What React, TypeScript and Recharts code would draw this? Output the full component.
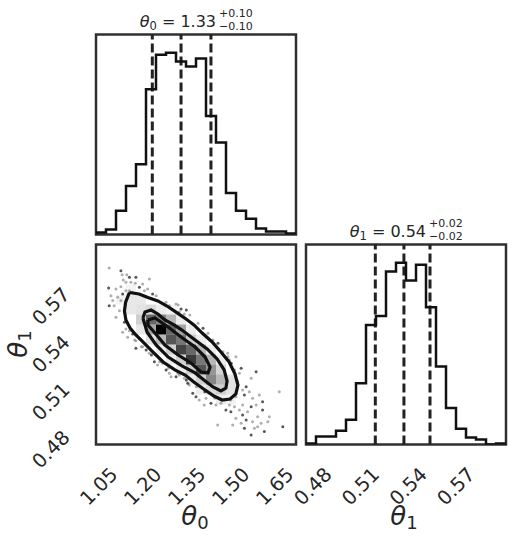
import { ComposedChart, Line, Scatter, XAxis, YAxis, ReferenceLine, ReferenceArea } from 'recharts'

const INK = '#262626'
const FRAME = '#303030'
const FONT = '"DejaVu Sans", sans-serif'

// axis ranges (sample extent) and tick values
const theta0Range = [1.04, 1.722]
const theta1Range = [0.4756, 0.6014]
const theta0Ticks = [1.05, 1.2, 1.35, 1.5, 1.65]
const theta1Ticks = [0.48, 0.51, 0.54, 0.57]

// 1D histograms, 20 bins over the axis range
const theta0Counts = [2, 5, 24, 49, 71, 147, 182, 184, 175, 170, 178, 120, 93, 42, 24, 16, 6, 3, 3, 1]
const theta1Counts = [1, 8, 8, 14, 25, 62, 121, 130, 175, 184, 166, 182, 139, 79, 37, 16, 7, 5, 0, 1]

// 16 / 50 / 84 % quantiles
const theta0Quantiles = [1.232, 1.33, 1.432]
const theta1Quantiles = [0.5192, 0.5372, 0.5536]

// 2D histogram cells: [theta0 bin, theta1 bin, count]
const density2d: [number, number, number][] = [
  [6, 11, 40], [9, 8, 34], [8, 9, 33], [10, 7, 31], [7, 10, 31], [5, 12, 29], [7, 11, 29], [9, 9, 29],
  [8, 10, 27], [10, 8, 27], [6, 12, 25], [11, 6, 25], [11, 7, 23], [8, 11, 21], [5, 11, 21], [12, 6, 18],
  [7, 12, 18], [6, 10, 18], [10, 9, 18], [11, 8, 18], [12, 5, 14], [7, 9, 14], [9, 10, 14], [8, 8, 14],
  [9, 7, 14], [10, 6, 14], [4, 12, 14], [4, 13, 10], [5, 13, 12], [3, 13, 9], [3, 14, 9], [4, 14, 9],
  [12, 7, 13], [13, 5, 10], [13, 6, 10], [11, 5, 12], [6, 13, 8], [2, 14, 6], [3, 15, 6], [12, 4, 8],
  [13, 4, 6], [5, 10, 10], [4, 11, 9], [6, 9, 8], [7, 8, 8], [8, 7, 8], [9, 6, 8], [10, 5, 8],
  [12, 8, 8], [11, 9, 8], [10, 10, 8], [9, 11, 8], [8, 12, 8], [7, 13, 6],
]

// contour levels (theta0, theta1)
const outerContour = [
  [1.154, 0.5712], [1.187, 0.5703], [1.217, 0.5681], [1.251, 0.5659], [1.282, 0.5627], [1.313, 0.5589],
  [1.347, 0.5545], [1.374, 0.5508], [1.402, 0.5457], [1.436, 0.5401], [1.466, 0.5338], [1.494, 0.5275],
  [1.514, 0.5199], [1.524, 0.513], [1.517, 0.5074], [1.497, 0.5042], [1.47, 0.5036], [1.442, 0.5061],
  [1.412, 0.5099], [1.378, 0.5143], [1.344, 0.5193], [1.309, 0.5225], [1.269, 0.5275], [1.231, 0.5344],
  [1.2, 0.5401], [1.176, 0.5445], [1.156, 0.5489], [1.142, 0.5539], [1.137, 0.5596], [1.141, 0.5652],
  [1.154, 0.5712],
]
const middleContour = [
  [1.2, 0.5552], [1.207, 0.5589], [1.228, 0.5602], [1.251, 0.5577], [1.275, 0.5539], [1.306, 0.5508],
  [1.333, 0.5476], [1.378, 0.5413], [1.419, 0.5357], [1.453, 0.5294], [1.477, 0.5225], [1.487, 0.5155],
  [1.483, 0.5111], [1.466, 0.5093], [1.439, 0.5118], [1.408, 0.5162], [1.378, 0.5206], [1.333, 0.525],
  [1.286, 0.5306], [1.245, 0.5382], [1.214, 0.5464], [1.2, 0.5552],
]
const innerContour = [
  [1.217, 0.5539], [1.241, 0.5552], [1.286, 0.5495], [1.33, 0.5432], [1.378, 0.5369], [1.412, 0.5306],
  [1.429, 0.5243], [1.422, 0.5206], [1.398, 0.5212], [1.364, 0.5269], [1.32, 0.5319], [1.275, 0.5382],
  [1.241, 0.5457], [1.217, 0.5508], [1.217, 0.5539],
]

// samples outside the lowest contour
const darkSamples = [
  [1.125, 0.5849], [1.154, 0.5808], [1.176, 0.5808], [1.188, 0.5745], [1.083, 0.574], [1.233, 0.5703],
  [1.131, 0.5703], [1.085, 0.5629], [1.137, 0.5525], [1.165, 0.5451], [1.33, 0.5608], [1.176, 0.5361],
  [1.239, 0.5277], [1.279, 0.5225], [1.313, 0.5182], [1.353, 0.5141], [1.37, 0.5078], [1.211, 0.535],
  [1.535, 0.5235], [1.586, 0.5214], [1.552, 0.512], [1.546, 0.5067], [1.608, 0.5025], [1.569, 0.4994],
  [1.54, 0.4942], [1.5, 0.4962], [1.546, 0.4858], [1.614, 0.4837], [1.677, 0.4868], [1.569, 0.4816],
  [1.483, 0.4973], [1.432, 0.5015], [1.381, 0.5057], [1.608, 0.4973], [1.552, 0.491],
  [1.348, 0.5602], [1.405, 0.5487], [1.456, 0.5393], [1.501, 0.5267], [1.229, 0.5319], [1.348, 0.5162],
  [1.411, 0.5088],
]
const lightSamples = [
  [1.085, 0.5866], [1.129, 0.5824], [1.145, 0.5824], [1.133, 0.5791], [1.142, 0.5776], [1.159, 0.5776],
  [1.174, 0.577], [1.222, 0.5797], [1.199, 0.5766], [1.125, 0.5749], [1.108, 0.5734], [1.154, 0.5723],
  [1.165, 0.5713], [1.216, 0.5734], [1.205, 0.5723], [1.245, 0.5692], [1.091, 0.5692], [1.114, 0.5682],
  [1.125, 0.5661], [1.102, 0.5629], [1.12, 0.5598], [1.108, 0.5556], [1.142, 0.5482], [1.131, 0.5462],
  [1.154, 0.5472], [1.148, 0.543], [1.188, 0.542], [1.176, 0.5409], [1.29, 0.5629], [1.313, 0.564],
  [1.279, 0.565], [1.341, 0.5577], [1.324, 0.559], [1.142, 0.5723], [1.097, 0.5661], [1.199, 0.5371],
  [1.25, 0.5256], [1.262, 0.5278], [1.296, 0.5182], [1.29, 0.5204], [1.324, 0.5193], [1.341, 0.5172],
  [1.358, 0.513], [1.267, 0.5267], [1.222, 0.533], [1.489, 0.533], [1.495, 0.5288], [1.517, 0.5308],
  [1.529, 0.5204], [1.569, 0.5172], [1.523, 0.5151], [1.54, 0.5099], [1.563, 0.5088], [1.574, 0.5047],
  [1.597, 0.5067], [1.586, 0.5004], [1.557, 0.4962], [1.529, 0.4973], [1.512, 0.4994], [1.495, 0.5004],
  [1.517, 0.4921], [1.535, 0.4889], [1.574, 0.4899], [1.58, 0.4858], [1.591, 0.4868], [1.626, 0.4899],
  [1.631, 0.4931], [1.665, 0.5088], [1.506, 0.4879], [1.455, 0.4879], [1.466, 0.5015], [1.449, 0.5004],
  [1.409, 0.5004], [1.392, 0.5036], [1.415, 0.5047], [1.54, 0.5004], [1.591, 0.4931], [1.603, 0.4889],
  [1.517, 0.5057], [1.5, 0.5036],
  [1.32, 0.5633], [1.36, 0.5571], [1.388, 0.5518], [1.422, 0.5455], [1.439, 0.5413], [1.473, 0.534],
  [1.49, 0.5308], [1.513, 0.5225], [1.172, 0.5413], [1.195, 0.5371], [1.257, 0.5277], [1.286, 0.5235],
  [1.32, 0.5204], [1.382, 0.512], [1.445, 0.5047],
]

const toXY = (pts: number[][]) => pts.map(([x, y]) => ({ x, y }))

// outline of a step histogram
function stepData(counts: number[], range: number[]) {
  const w = (range[1] - range[0]) / counts.length
  const pts = [{ x: range[0], y: 0 }]
  counts.forEach((c, i) => pts.push({ x: range[0] + i * w, y: c }))
  pts.push({ x: range[1], y: counts[counts.length - 1] })
  pts.push({ x: range[1], y: 0 })
  return pts
}

const theta0Hist = stepData(theta0Counts, theta0Range)
const theta1Hist = stepData(theta1Counts, theta1Range)
const theta0Top = Math.max(...theta0Counts) * 1.1
const theta1Top = Math.max(...theta1Counts) * 1.1
const bin0 = (theta0Range[1] - theta0Range[0]) / 20
const bin1 = (theta1Range[1] - theta1Range[0]) / 20
const densityMax = Math.max(...density2d.map((d) => d[2]))

function XTick({ x, y, payload }: any) {
  const cy = y + 42
  return (
    <text x={x} y={cy} textAnchor="middle" dominantBaseline="central" transform={`rotate(-45 ${x} ${cy})`}
      fontSize={19.5} fontFamily={FONT} fill={INK}>
      {Number(payload.value).toFixed(2)}
    </text>
  )
}

function YTick({ x, y, payload }: any) {
  const cx = x - 45
  const cy = y + 12
  return (
    <text x={cx} y={cy} textAnchor="middle" dominantBaseline="central" transform={`rotate(-45 ${cx} ${cy})`}
      fontSize={19.5} fontFamily={FONT} fill={INK}>
      {Number(payload.value).toFixed(2)}
    </text>
  )
}

const noDot = () => <g />
const lightDot = (p: any) => <circle cx={p.cx} cy={p.cy} r={1.5} fill="#8c8c8c" fillOpacity={0.7} />
const darkDot = (p: any) => <circle cx={p.cx} cy={p.cy} r={1.5} fill="#3a3a3a" fillOpacity={0.85} />

function frame(xr: number[], yr: number[]) {
  return <ReferenceArea x1={xr[0]} x2={xr[1]} y1={yr[0]} y2={yr[1]} fill="none" stroke={FRAME} strokeWidth={2.5} ifOverflow="visible" />
}

export default function App() {
  return (
    <div style={{ position: 'absolute', left: 0, top: 0, width: 516, height: 541, background: '#fff' }}>
      <style>{'svg { overflow: visible; }'}</style>
      {/* theta0 marginal */}
      <div style={{ position: 'absolute', left: 96, top: 34 }}>
        <ComposedChart width={200} height={201} data={theta0Hist} margin={{ top: 0.5, right: 0, bottom: 0.5, left: 0 }}>
          <XAxis type="number" dataKey="x" domain={theta0Range} hide allowDataOverflow />
          <YAxis type="number" domain={[0, theta0Top]} hide allowDataOverflow />
          {theta0Quantiles.map((q) => (
            <ReferenceLine key={q} x={q} stroke="#222" strokeWidth={3} strokeDasharray="9 4" />
          ))}
          <Line type="stepAfter" dataKey="y" stroke="#111" strokeWidth={2.5} dot={false} isAnimationActive={false} />
          {frame(theta0Range, [0, theta0Top])}
        </ComposedChart>
      </div>

      {/* joint theta0 / theta1 */}
      <div style={{ position: 'absolute', left: 0, top: 244 }}>
        <ComposedChart width={296} height={297} margin={{ top: 0.5, right: 0, bottom: 0, left: 0 }}>
          <XAxis type="number" dataKey="x" domain={theta0Range} ticks={theta0Ticks} interval={0} tick={XTick}
            axisLine={false} tickLine={false} tickSize={0} tickMargin={0} height={96.5} allowDataOverflow />
          <YAxis type="number" dataKey="y" domain={theta1Range} ticks={theta1Ticks} interval={0} tick={YTick}
            axisLine={false} tickLine={false} tickSize={0} tickMargin={0} width={96} allowDataOverflow />
          <Scatter data={toXY(lightSamples)} shape={lightDot} isAnimationActive={false} />
          <Scatter data={toXY(darkSamples)} shape={darkDot} isAnimationActive={false} />
          {density2d.map(([i, j, c]) => (
            <ReferenceArea key={`${i}-${j}`} x1={theta0Range[0] + i * bin0} x2={theta0Range[0] + (i + 1) * bin0}
              y1={theta1Range[0] + j * bin1} y2={theta1Range[0] + (j + 1) * bin1}
              fill="#000" fillOpacity={(c / densityMax) ** 1.6} stroke="none" />
          ))}
          <Scatter data={toXY(outerContour)} line={{ stroke: '#111', strokeWidth: 3.2 }} shape={noDot} isAnimationActive={false} />
          <Scatter data={toXY(middleContour)} line={{ stroke: '#111', strokeWidth: 3.2 }} shape={noDot} isAnimationActive={false} />
          <Scatter data={toXY(innerContour)} line={{ stroke: '#111', strokeWidth: 3.2 }} shape={noDot} isAnimationActive={false} />
          {frame(theta0Range, theta1Range)}
        </ComposedChart>
      </div>

      {/* theta1 marginal */}
      <div style={{ position: 'absolute', left: 306, top: 244 }}>
        <ComposedChart width={200} height={297} data={theta1Hist} margin={{ top: 0.5, right: 0, bottom: 0, left: 0 }}>
          <XAxis type="number" dataKey="x" domain={theta1Range} ticks={theta1Ticks} interval={0} tick={XTick}
            axisLine={false} tickLine={false} tickSize={0} tickMargin={0} height={96.5} allowDataOverflow />
          <YAxis type="number" domain={[0, theta1Top]} hide allowDataOverflow />
          {theta1Quantiles.map((q) => (
            <ReferenceLine key={q} x={q} stroke="#222" strokeWidth={3} strokeDasharray="9 4" />
          ))}
          <Line type="stepAfter" dataKey="y" stroke="#111" strokeWidth={2.5} dot={false} isAnimationActive={false} />
          {frame(theta1Range, [0, theta1Top])}
        </ComposedChart>
      </div>

      {/* titles and axis labels */}
      <svg width={516} height={541} style={{ position: 'absolute', left: 0, top: 0, pointerEvents: 'none' }}
        fontFamily={FONT} fill={INK}>
        <text x={216} y={26.5} textAnchor="end" fontSize={16}>
          <tspan fontStyle="italic">θ</tspan><tspan fontSize={11.5} dy={3}>0</tspan><tspan dy={-3}>{' = 1.33'}</tspan>
        </text>
        <text x={219} y={17} fontSize={11}>+0.10</text>
        <text x={219} y={30} fontSize={11}>−0.10</text>

        <text x={426} y={236.5} textAnchor="end" fontSize={16}>
          <tspan fontStyle="italic">θ</tspan><tspan fontSize={11.5} dy={3}>1</tspan><tspan dy={-3}>{' = 0.54'}</tspan>
        </text>
        <text x={429} y={227} fontSize={11}>+0.02</text>
        <text x={429} y={240} fontSize={11}>−0.02</text>

        <text x={195} y={525} textAnchor="middle" fontSize={26}>
          <tspan fontStyle="italic">θ</tspan><tspan fontSize={18} dy={4}>0</tspan>
        </text>
        <text x={404} y={525} textAnchor="middle" fontSize={26}>
          <tspan fontStyle="italic">θ</tspan><tspan fontSize={18} dy={4}>1</tspan>
        </text>
        <text x={27} y={344} textAnchor="middle" fontSize={26} transform="rotate(-90 27 344)">
          <tspan fontStyle="italic">θ</tspan><tspan fontSize={18} dy={4}>1</tspan>
        </text>
      </svg>
    </div>
  )
}
